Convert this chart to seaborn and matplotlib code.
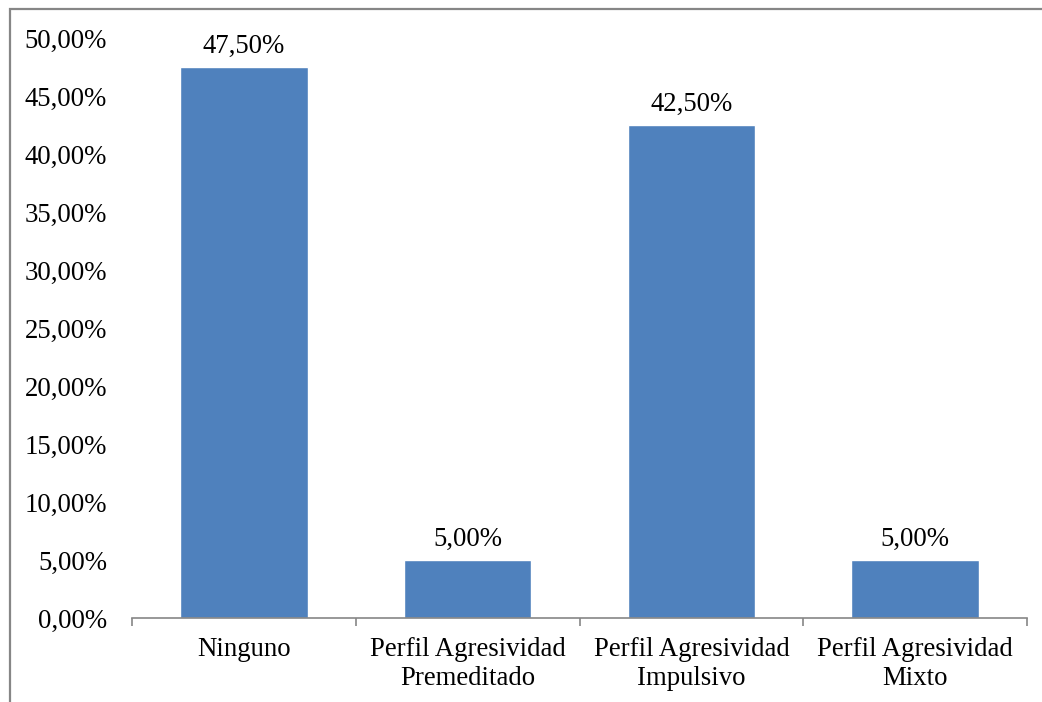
import pandas as pd
import seaborn as sns
import matplotlib.pyplot as plt
from matplotlib.patches import Rectangle

# Data
categories = ["Ninguno", "Perfil Agresividad\nPremeditado",
              "Perfil Agresividad\nImpulsivo", "Perfil Agresividad\nMixto"]
values = [47.5, 5.0, 42.5, 5.0]
y_ticks = [0, 5, 10, 15, 20, 25, 30, 35, 40, 45, 50]

def pct(v):
    # Spanish decimal comma
    return f"{v:.2f}%".replace(".", ",")

data = pd.DataFrame({"Perfil": categories, "Porcentaje": values})

sns.set_theme(style="white")
plt.rcParams['font.family'] = ['Liberation Serif', 'DejaVu Serif']
FS = 19.3

fig = plt.figure(figsize=(10.42, 7.02), dpi=100)
ax = fig.add_axes([132 / 1042, 84 / 702, (1027 - 132) / 1042, (618 - 38) / 702])

sns.barplot(data=data, x="Perfil", y="Porcentaje", color="#4F81BD",
            saturation=1, width=0.57, ax=ax)

# value labels above the bars
for i, v in enumerate(values):
    ax.annotate(pct(v), (i, v), xytext=(0, 10.5), textcoords="offset points",
                ha="center", va="baseline", fontsize=FS, color="black")

ax.set_ylim(0, 50)
ax.set_xlim(-0.5, len(categories) - 0.5)
ax.set_yticks(y_ticks)
ax.set_yticklabels([pct(t) for t in y_ticks])
ax.tick_params(axis="y", length=0, pad=18, labelsize=FS, colors="black")

# Excel-style: tick marks between categories, labels centred
ax.set_xticks([i - 0.5 for i in range(len(categories) + 1)])
ax.set_xticklabels([])
ax.set_xticks(range(len(categories)), minor=True)
ax.set_xticklabels(categories, minor=True, fontsize=FS, color="black",
                   linespacing=1.2)
ax.tick_params(axis="x", which="major", length=6, width=1.2,
               color="#868686", direction="out", bottom=True)
ax.tick_params(axis="x", which="minor", length=0, pad=14)
ax.set_xlabel("")
ax.set_ylabel("")

for side in ["left", "top", "right"]:
    ax.spines[side].set_visible(False)
ax.spines["bottom"].set_color("#868686")
ax.spines["bottom"].set_linewidth(1.2)

# chart area border (cropped on the right and bottom)
fig.patches.append(Rectangle((10 / 1042, -0.1), 1.2, 1.1 - 9 / 702,
                             transform=fig.transFigure, fill=False,
                             edgecolor="#868686", linewidth=1.6))

fig.savefig("out.png", dpi=100)
